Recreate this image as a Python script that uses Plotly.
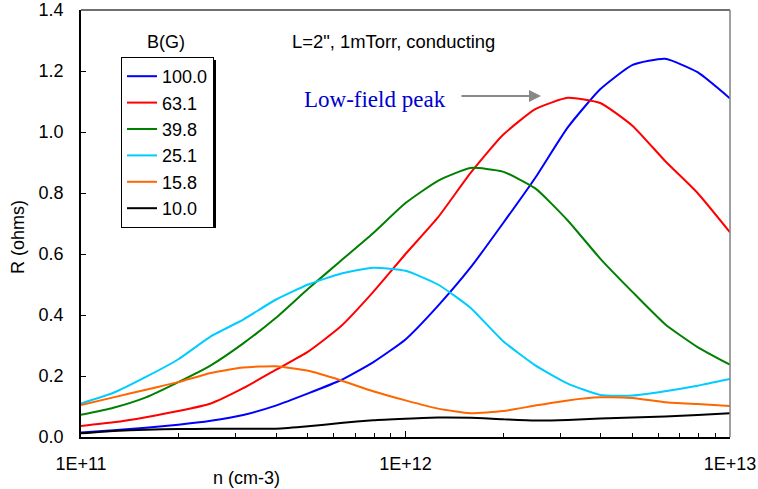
import numpy as np
import plotly.graph_objects as go

# Electron density grid: 10 points per decade from 1E11 to 1E13 cm^-3
log_n = [11.0, 11.1, 11.2, 11.3, 11.4, 11.5, 11.6, 11.7, 11.8, 11.9, 12.0,
         12.1, 12.2, 12.3, 12.4, 12.5, 12.6, 12.7, 12.8, 12.9, 13.0]
density = [10 ** v for v in log_n]

# Plasma resistance R (ohms) for each magnetic field B (G)
field_labels = ["100.0", "63.1", "39.8", "25.1", "15.8", "10.0"]
r_100 = [0.015, 0.022, 0.030, 0.040, 0.053, 0.072, 0.103, 0.143, 0.186, 0.245, 0.320,
         0.430, 0.555, 0.700, 0.850, 1.015, 1.140, 1.220, 1.240, 1.196, 1.110]
r_631 = [0.036, 0.048, 0.065, 0.085, 0.110, 0.160, 0.220, 0.280, 0.362, 0.475, 0.600,
         0.720, 0.865, 0.990, 1.075, 1.112, 1.095, 1.020, 0.905, 0.800, 0.671]
r_398 = [0.073, 0.096, 0.130, 0.180, 0.235, 0.307, 0.390, 0.486, 0.577, 0.668, 0.767,
         0.840, 0.882, 0.870, 0.815, 0.710, 0.585, 0.475, 0.370, 0.295, 0.237]
r_251 = [0.110, 0.145, 0.197, 0.255, 0.330, 0.385, 0.450, 0.500, 0.535, 0.555, 0.545,
         0.500, 0.424, 0.315, 0.235, 0.175, 0.138, 0.136, 0.150, 0.168, 0.190]
r_158 = [0.105, 0.130, 0.155, 0.180, 0.210, 0.228, 0.232, 0.217, 0.186, 0.150, 0.120,
         0.093, 0.078, 0.085, 0.103, 0.120, 0.130, 0.128, 0.114, 0.108, 0.102]
r_100g = [0.012, 0.020, 0.024, 0.026, 0.027, 0.027, 0.027, 0.035, 0.046, 0.055, 0.060,
          0.064, 0.063, 0.058, 0.054, 0.056, 0.061, 0.064, 0.067, 0.072, 0.078]
series = [r_100, r_631, r_398, r_251, r_158, r_100g]
colors = ["#0000FF", "#FF0000", "#008000", "#00CCFF", "#FF6600", "#000000"]

x_ticks = [1e11, 1e12, 1e13]
x_tick_text = ["1E+11", "1E+12", "1E+13"]
x_minor = [m * 10 ** d for d in (11, 12) for m in range(2, 10)]

W, H = 758, 489
L, R, T, B = 81, 28, 10, 52
FONT = "Arial, Liberation Sans, sans-serif"


def px(x):
    return (x - L) / (W - L - R)


def py(y):
    return (H - B - y) / (H - B - T)


fig = go.Figure()
for name, vals, col in zip(field_labels, series, colors):
    fig.add_trace(go.Scatter(x=density, y=vals, mode="lines", name=name,
                             line=dict(color=col, width=2, shape="spline",
                                       smoothing=0.5)))

fig.update_layout(
    width=W, height=H,
    margin=dict(l=L, r=R, t=T, b=B, autoexpand=False),
    paper_bgcolor="white", plot_bgcolor="white",
    font=dict(family=FONT, size=18, color="black"),
    showlegend=True,
    legend=dict(x=px(121), y=py(57), xanchor="left", yanchor="top",
                bgcolor="white", bordercolor="black", borderwidth=1,
                font=dict(size=18), tracegroupgap=0),
    xaxis=dict(type="log", range=[11, 13], tickvals=x_ticks, ticktext=x_tick_text,
               ticks="inside", ticklen=6, tickcolor="black", showgrid=False,
               zeroline=False, showline=True, linecolor="black", linewidth=1.5,
               ticklabelstandoff=10, automargin=False,
               minor=dict(tickvals=x_minor, ticks="inside", ticklen=4,
                          tickcolor="black", showgrid=False)),
    yaxis=dict(range=[0, 1.4], dtick=0.2, tickformat=".1f", ticks="inside",
               ticklen=5, tickcolor="black", showgrid=False, zeroline=False,
               showline=True, linecolor="black", linewidth=1.5,
               ticklabelstandoff=12, automargin=False),
)

# Plot-area border on the top and right
fig.add_shape(type="line", xref="paper", yref="paper", x0=0, x1=1, y0=1, y1=1,
              line=dict(color="#404040", width=1.5))
fig.add_shape(type="line", xref="paper", yref="paper", x0=1, x1=1, y0=0, y1=1,
              line=dict(color="#808080", width=1.5))
# Drop shadow behind the legend box
fig.add_shape(type="rect", xref="paper", yref="paper",
              x0=px(124), x1=px(216), y0=py(228), y1=py(60),
              fillcolor="black", line=dict(width=0), layer="above")


def label(text, x, y, **kw):
    fig.add_annotation(text=text, xref="paper", yref="paper", x=px(x), y=py(y),
                       yanchor="middle", showarrow=False, **kw)


label("B(G)", 166, 42, xanchor="center", font=dict(size=18))
label('L=2", 1mTorr, conducting', 290, 42, xanchor="left", font=dict(size=18.4))
label("Low-field peak", 375, 99, xanchor="center",
      font=dict(family="Times New Roman, Liberation Serif, serif",
                size=23, color="#0000CC"))
label("n (cm-3)", 246, 478, xanchor="center", font=dict(size=18))
label("R (ohms)", 18, 237, xanchor="center", textangle=-90, font=dict(size=18))

fig.add_annotation(text="", xref="x domain", yref="y domain",
                   axref="x domain", ayref="y domain",
                   x=px(541), y=py(96), ax=px(460), ay=py(96), showarrow=True,
                   arrowhead=2, arrowsize=1.2, arrowwidth=2, arrowcolor="#888888")

fig.write_html("out.html")
